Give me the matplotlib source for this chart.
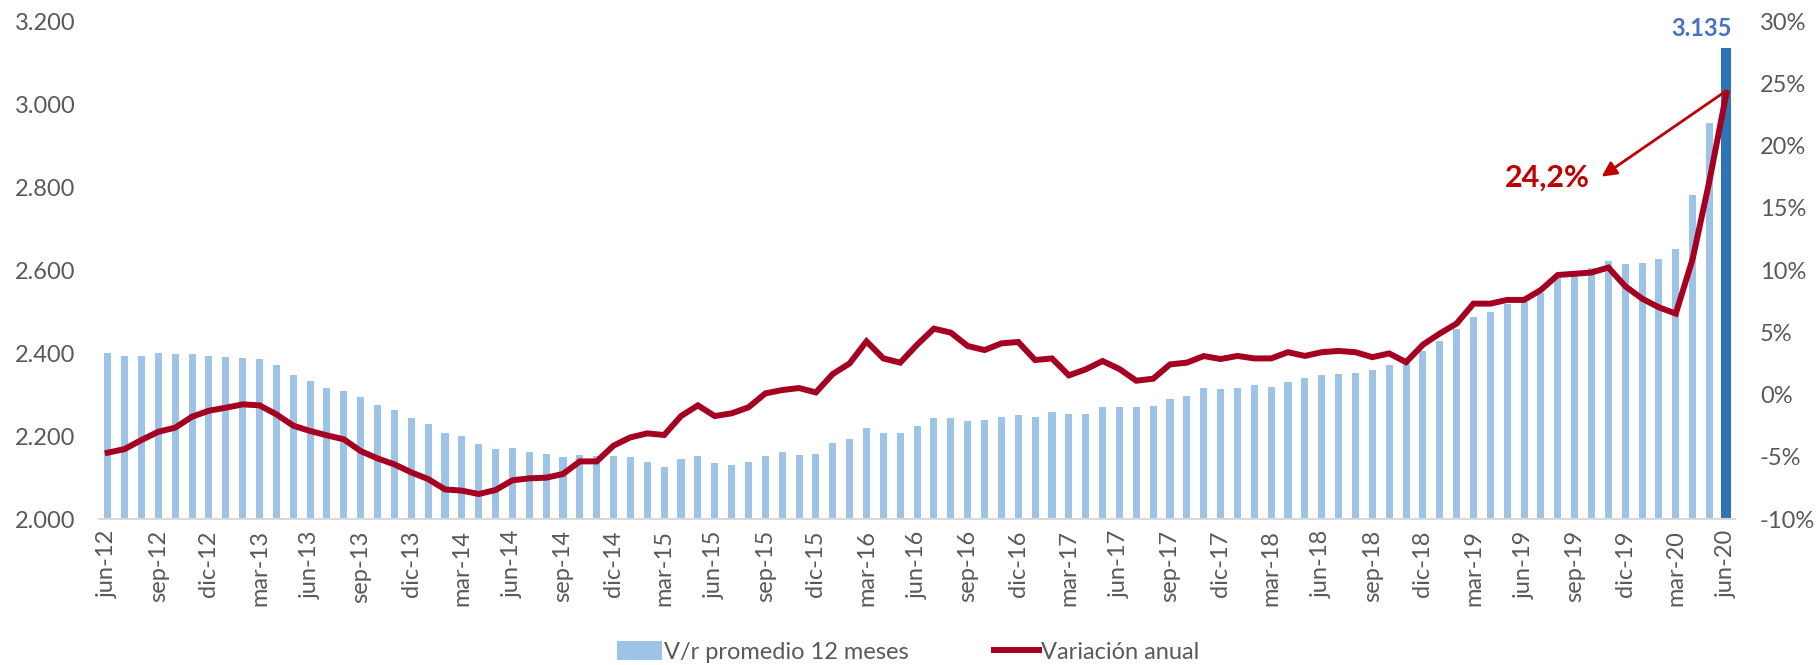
import matplotlib
matplotlib.use("Agg")
import matplotlib.pyplot as plt
from matplotlib.patches import Patch
from matplotlib.lines import Line2D
import numpy as np

plt.rcParams['font.family'] = ['Lato', 'DejaVu Sans']

# Monthly data: jun-12 .. jun-20 (97 months)
bar_values = [
    2400, 2394, 2394, 2401, 2398, 2398, 2394, 2390, 2389, 2386,
    2371, 2348, 2332, 2316, 2309, 2294, 2275, 2263, 2244, 2228,
    2207, 2200, 2180, 2168, 2172, 2161, 2157, 2149, 2154, 2152,
    2152, 2149, 2138, 2126, 2144, 2151, 2134, 2130, 2137, 2152,
    2161, 2155, 2156, 2184, 2192, 2219, 2208, 2207, 2223, 2244,
    2244, 2236, 2239, 2245, 2250, 2246, 2258, 2253, 2254, 2269,
    2270, 2270, 2273, 2290, 2297, 2315, 2314, 2315, 2322, 2317,
    2330, 2339, 2346, 2350, 2352, 2360, 2371, 2378, 2406, 2430,
    2457, 2488, 2500, 2517, 2523, 2544, 2581, 2586, 2605, 2622,
    2615, 2618, 2626, 2650, 2781, 2955, 3135,
]
var_anual = [
    -4.67, -4.38, -3.65, -2.99, -2.66, -1.78, -1.30, -1.06, -0.79, -0.87,
    -1.59, -2.50, -2.93, -3.28, -3.60, -4.54, -5.13, -5.61, -6.25, -6.79,
    -7.62, -7.72, -7.99, -7.67, -6.89, -6.73, -6.68, -6.38, -5.37, -5.37,
    -4.10, -3.44, -3.12, -3.25, -1.73, -0.87, -1.73, -1.51, -1.03, 0.09,
    0.36, 0.52, 0.17, 1.65, 2.50, 4.27, 2.90, 2.56, 4.00, 5.29,
    4.97, 3.90, 3.57, 4.11, 4.22, 2.77, 2.90, 1.54, 2.02, 2.69,
    2.05, 1.11, 1.27, 2.42, 2.56, 3.09, 2.85, 3.10, 2.90, 2.90,
    3.40, 3.10, 3.40, 3.50, 3.40, 3.00, 3.30, 2.60, 4.00, 4.90,
    5.70, 7.30, 7.30, 7.60, 7.60, 8.40, 9.60, 9.70, 9.80, 10.20,
    8.70, 7.70, 7.00, 6.50, 10.90, 17.20, 24.20,
]
tick_labels = [
    "jun-12", "sep-12", "dic-12", "mar-13", "jun-13", "sep-13", "dic-13",
    "mar-14", "jun-14", "sep-14", "dic-14", "mar-15", "jun-15", "sep-15",
    "dic-15", "mar-16", "jun-16", "sep-16", "dic-16", "mar-17", "jun-17",
    "sep-17", "dic-17", "mar-18", "jun-18", "sep-18", "dic-18", "mar-19",
    "jun-19", "sep-19", "dic-19", "mar-20", "jun-20",
]
last_label = "3.135"
var_label = "24,2%"
legend_labels = ["V/r promedio 12 meses", "Variación anual"]

LIGHT = "#9DC3E6"
DARK = "#2E75B6"
LINEC = "#A50021"
ANN = "#C00000"
GRAY = "#595959"

n = len(bar_values)
x = np.arange(n)

fig = plt.figure(figsize=(18.16, 6.65), dpi=100)
ax = fig.add_axes([0.0547, 0.2195, 0.9006, 0.7489])
ax2 = ax.twinx()

ax.bar(x[:-1], bar_values[:-1], width=0.42, color=LIGHT, zorder=1)
ax.bar(x[-1], bar_values[-1], width=0.6, color=DARK, zorder=1)
ax.set_xlim(-0.5, n - 0.5)
ax.set_ylim(2000, 3200)
ax.set_yticks(np.arange(2000, 3201, 200))
ax.set_yticklabels([f"{v/1000:.3f}" for v in np.arange(2000, 3201, 200)])
ax.set_xticks(x[::3])
ax.set_xticklabels(tick_labels, rotation=90)

ax2.plot(x, np.array(var_anual) / 100, color=LINEC, lw=4.3, solid_joinstyle='miter', zorder=3)
ax2.set_ylim(-0.10, 0.30)
ax2.set_yticks(np.arange(-0.10, 0.301, 0.05))
ax2.set_yticklabels([f"{int(round(v*100))}%" for v in np.arange(-0.10, 0.301, 0.05)])

for a in (ax, ax2):
    for s in a.spines.values():
        s.set_visible(False)
    a.tick_params(length=0, labelsize=17, colors=GRAY)
ax.spines['bottom'].set_visible(True)
ax.spines['bottom'].set_color("#D9D9D9")
ax.spines['bottom'].set_linewidth(1.5)
ax.tick_params(axis='y', pad=17)
ax.tick_params(axis='x', pad=8)
ax2.tick_params(axis='y', pad=18)

# annotations
ax.text(n - 1 + 0.3, 3181, last_label, ha='right', va='center', color="#4472C4",
        fontsize=17, fontweight='bold')
ax2.annotate('', xy=(88.6, 0.175), xytext=(n - 1, var_anual[-1] / 100 + 0.002),
             arrowprops=dict(arrowstyle='-|>', color=ANN, lw=2, mutation_scale=22,
                             shrinkA=0, shrinkB=0), zorder=5)
ax2.text(85.4, 0.174, var_label, ha='center', va='center', color=ANN,
         fontsize=22, fontweight='bold')

handles = [Patch(facecolor=LIGHT, edgecolor='none'),
           Line2D([0], [0], color=LINEC, lw=4.3)]
fig.legend(handles, legend_labels, loc='center', bbox_to_anchor=(0.5, 0.02),
           ncol=2, frameon=False, fontsize=17, labelcolor=GRAY,
           handlelength=1.9, handletextpad=0.1, columnspacing=3.6, handleheight=0.9)

fig.savefig("out.png", dpi=100)
